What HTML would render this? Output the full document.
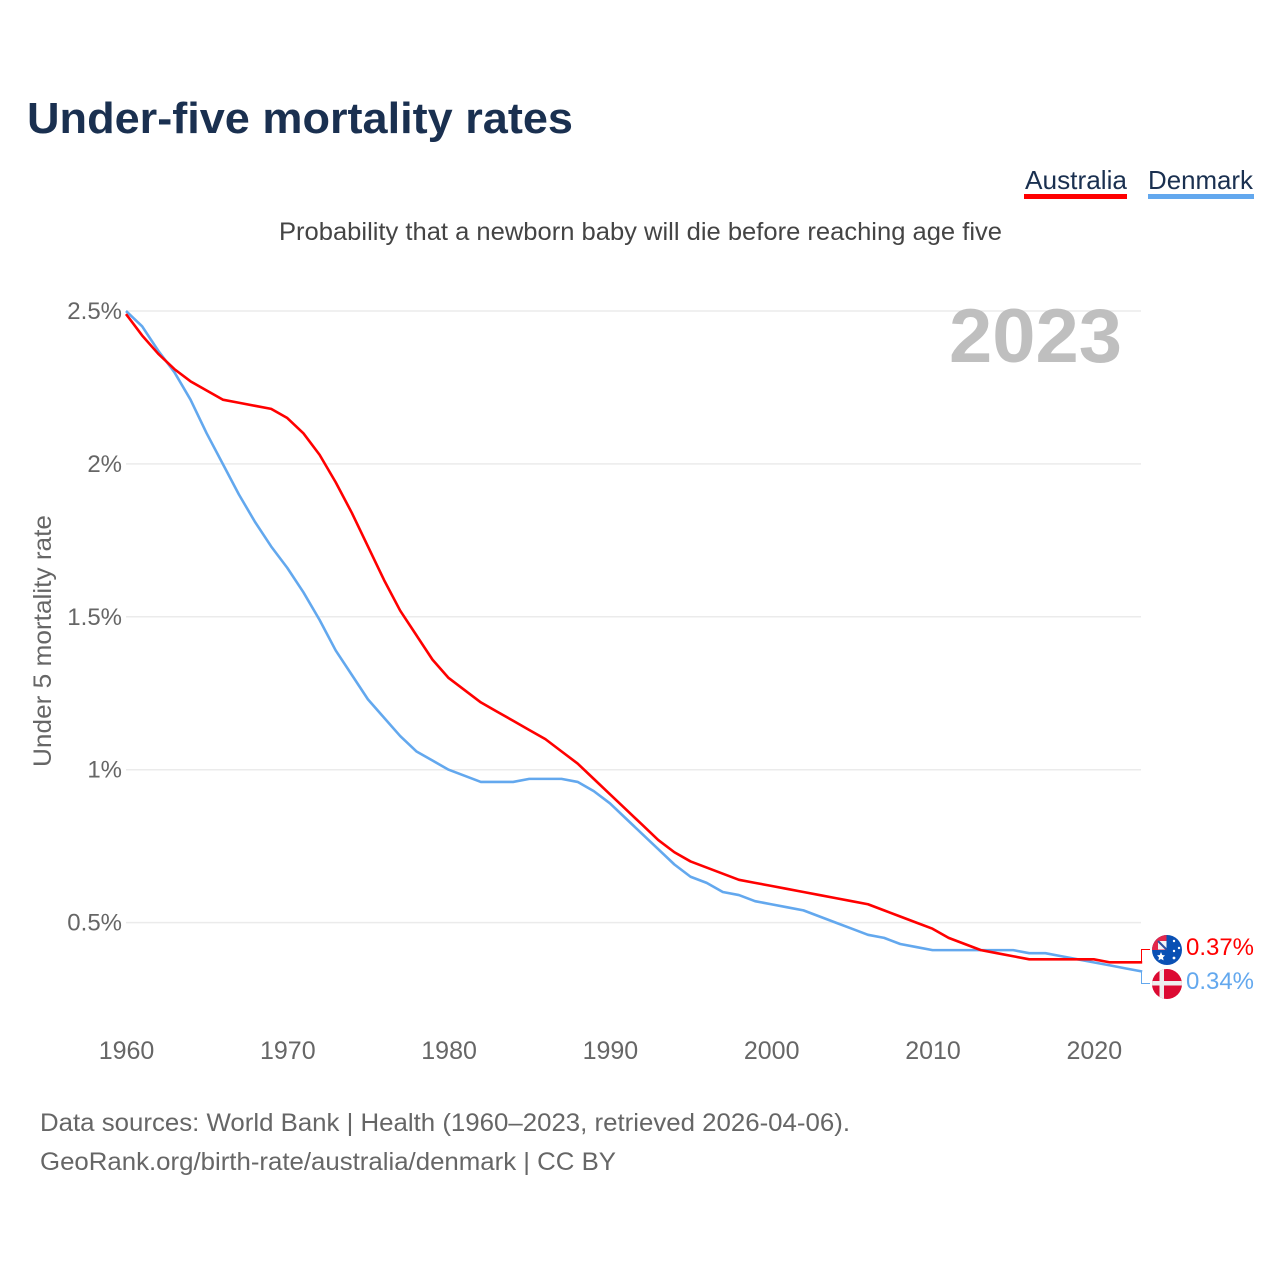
<!DOCTYPE html>
<html lang="en">
<head>
<meta charset="utf-8">
<title>Under-five mortality rates</title>
<style>
html,body{margin:0;padding:0;background:#fff;width:1280px;height:1280px;overflow:hidden}
svg{display:block}
text{font-family:"Liberation Sans",sans-serif}
</style>
</head>
<body>
<svg id="chart" xmlns="http://www.w3.org/2000/svg" width="1280" height="1280" viewBox="0 0 1280 1280">
  <defs>
    <clipPath id="flag-au-clip"><circle cx="1167" cy="950" r="15"/></clipPath>
    <clipPath id="flag-dk-clip"><circle cx="1167" cy="984" r="15"/></clipPath>
  </defs>
  <text x="27" y="133" font-size="44" font-weight="700" fill="#1a3050" textLength="546" lengthAdjust="spacingAndGlyphs">Under-five mortality rates</text>

  <g>
    <g>
      <text x="1025" y="189" font-size="26" fill="#1a3050" textLength="102" lengthAdjust="spacingAndGlyphs">Australia</text>
      <rect x="1024" y="194" width="103" height="5" fill="#ff0000"/>
    </g>
    <g>
      <text x="1148" y="189" font-size="26" fill="#1a3050" textLength="105" lengthAdjust="spacingAndGlyphs">Denmark</text>
      <rect x="1148" y="194" width="106" height="5" fill="#63a8ee"/>
    </g>
  </g>

  <text x="279" y="240" font-size="25" fill="#444444" textLength="723" lengthAdjust="spacingAndGlyphs">Probability that a newborn baby will die before reaching age five</text>
  <text transform="translate(51,767) rotate(-90)" x="0" y="0" font-size="25" fill="#666666" textLength="252" lengthAdjust="spacingAndGlyphs">Under 5 mortality rate</text>
  <g id="grid"></g>
  <g id="y-ticks"></g>
  <g id="x-ticks"></g>
  <text x="949" y="362" font-size="76" font-weight="700" fill="#bfbfbf" textLength="173" lengthAdjust="spacingAndGlyphs">2023</text>
  <g id="series"></g>

  <g clip-path="url(#flag-au-clip)">
    <rect x="1152" y="935" width="30" height="30" fill="#0a50b4"/>
    <rect x="1152" y="935" width="15" height="15" fill="#e4274b"/>
    <rect x="1158" y="941" width="9" height="8.5" fill="#f4f4f8"/>
    <path d="M1158 941L1167 950" stroke="#3050a0" stroke-width="2"/>
    <path d="M1167 935V950" stroke="#0a50b4" stroke-width="1"/>
    <polygon points="1161,952 1162.2,955 1165,955.4 1163,957.4 1163.6,960.4 1161,959 1158.4,960.4 1159,957.4 1157,955.4 1159.8,955" fill="#ffffff"/>
    <circle cx="1174" cy="941" r="1.2" fill="#fff"/>
    <circle cx="1179" cy="948" r="1.2" fill="#fff"/>
    <circle cx="1174" cy="951" r="1.2" fill="#fff"/>
    <circle cx="1174" cy="958" r="1.4" fill="#fff"/>
  </g>
  <g clip-path="url(#flag-dk-clip)">
    <rect x="1152" y="969" width="30" height="30" fill="#dc0a32"/>
    <rect x="1159.5" y="969" width="4.5" height="30" fill="#eeeeee"/>
    <rect x="1152" y="981" width="30" height="4.5" fill="#eeeeee"/>
  </g>
  <g id="end-labels"></g>

  <text x="40" y="1131" font-size="25" fill="#666666" textLength="810" lengthAdjust="spacingAndGlyphs">Data sources: World Bank | Health (1960–2023, retrieved 2026-04-06).</text>
  <text x="40" y="1170" font-size="25" fill="#666666" textLength="576" lengthAdjust="spacingAndGlyphs">GeoRank.org/birth-rate/australia/denmark | CC BY</text>
</svg>
<script>
const firstYear = 1960;
const australia = [2.49,2.42,2.36,2.31,2.27,2.24,2.21,2.20,2.19,2.18,2.15,2.10,2.03,1.94,1.84,1.73,1.62,1.52,1.44,1.36,1.30,1.26,1.22,1.19,1.16,1.13,1.10,1.06,1.02,0.97,0.92,0.87,0.82,0.77,0.73,0.70,0.68,0.66,0.64,0.63,0.62,0.61,0.60,0.59,0.58,0.57,0.56,0.54,0.52,0.50,0.48,0.45,0.43,0.41,0.40,0.39,0.38,0.38,0.38,0.38,0.38,0.37,0.37,0.37];
const denmark = [2.50,2.45,2.37,2.30,2.21,2.10,2.00,1.90,1.81,1.73,1.66,1.58,1.49,1.39,1.31,1.23,1.17,1.11,1.06,1.03,1.00,0.98,0.96,0.96,0.96,0.97,0.97,0.97,0.96,0.93,0.89,0.84,0.79,0.74,0.69,0.65,0.63,0.60,0.59,0.57,0.56,0.55,0.54,0.52,0.50,0.48,0.46,0.45,0.43,0.42,0.41,0.41,0.41,0.41,0.41,0.41,0.40,0.40,0.39,0.38,0.37,0.36,0.35,0.34];
const yTickValues = [0.5,1,1.5,2,2.5];
const yTickLabels = ["0.5%","1%","1.5%","2%","2.5%"];
const xTickYears = [1960,1970,1980,1990,2000,2010,2020];

const SVG_NS = "http://www.w3.org/2000/svg";
const xScale = function (year) { return 126 + 16.13 * (year - 1960); };
const yScale = function (v) { return 1075.5 - 305.8 * v; };
const lastIndex = australia.length - 1;

function make(tag, attrs, parent, content) {
  const el = document.createElementNS(SVG_NS, tag);
  Object.keys(attrs).forEach(function (k) { el.setAttribute(k, attrs[k]); });
  if (content !== undefined) el.textContent = content;
  parent.appendChild(el);
  return el;
}

const gridGroup = document.getElementById("grid");
const yTickGroup = document.getElementById("y-ticks");
yTickValues.forEach(function (v, i) {
  const line = make("line", {x1: 126, x2: 1141, y1: yScale(v), y2: yScale(v), stroke: "#ebebeb", "stroke-width": 1.5}, gridGroup);
  
  
  const label = make("text", {x: 122, y: yScale(v) + 8, "text-anchor": "end", "font-size": 24, fill: "#666666"}, yTickGroup, yTickLabels[i]);
  
  
});

const xTickGroup = document.getElementById("x-ticks");
xTickYears.forEach(function (year) {
  const label = make("text", {x: xScale(year) + 0.5, y: 1059, "text-anchor": "middle", "font-size": 25, fill: "#666666"}, xTickGroup, String(year));
  
  
});

function linePoints(values) {
  return values.map(function (v, i) {
    return xScale(firstYear + i).toFixed(2) + "," + yScale(v).toFixed(2);
  }).join(" ");
}

const seriesGroup = document.getElementById("series");
const denmarkLine = make("polyline", {points: linePoints(denmark), fill: "none", stroke: "#63a8ee", "stroke-width": 2.6, "stroke-linejoin": "round"}, seriesGroup);


const australiaLine = make("polyline", {points: linePoints(australia), fill: "none", stroke: "#ff0000", "stroke-width": 2.6, "stroke-linejoin": "round"}, seriesGroup);



const endGroup = document.getElementById("end-labels");
const auConnector = make("polyline", {points: "1141.5," + yScale(australia[lastIndex]) + " 1141.5,949.5 1150,949.5", fill: "none", stroke: "#ff0000", "stroke-width": 1}, endGroup);


const dkConnector = make("polyline", {points: "1141.5," + yScale(denmark[lastIndex]) + " 1141.5,983.5 1150,983.5", fill: "none", stroke: "#63a8ee", "stroke-width": 1}, endGroup);


const auLabel = make("text", {x: 1186, y: 955, "font-size": 24, fill: "#ff0000", textLength: 68, lengthAdjust: "spacingAndGlyphs"}, endGroup, australia[lastIndex].toFixed(2) + "%");


const dkLabel = make("text", {x: 1186, y: 989, "font-size": 24, fill: "#63a8ee", textLength: 68, lengthAdjust: "spacingAndGlyphs"}, endGroup, denmark[lastIndex].toFixed(2) + "%");


</script>
</body>
</html>
